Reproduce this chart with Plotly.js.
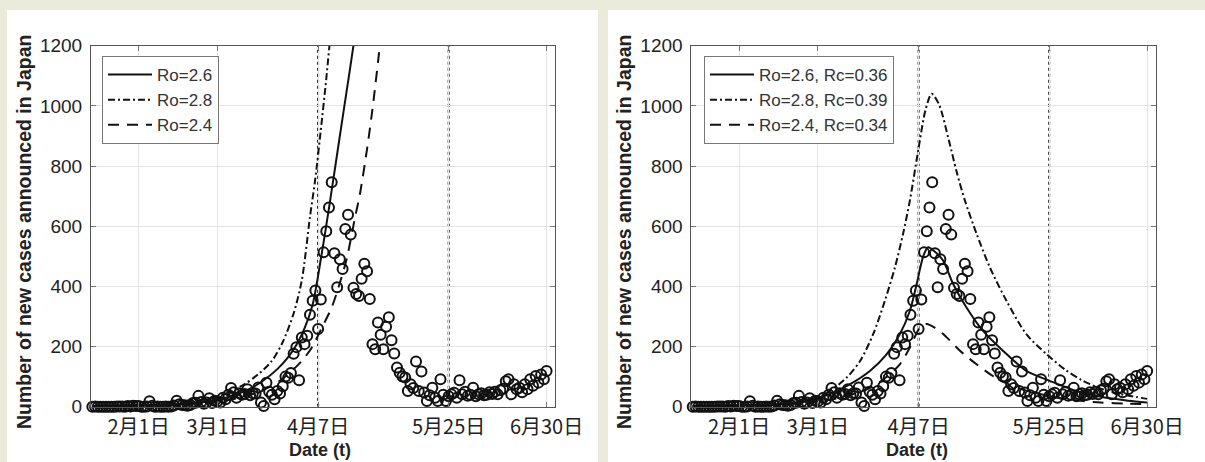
<!DOCTYPE html>
<html>
<head>
<meta charset="utf-8">
<script src="https://cdn.plot.ly/plotly-3.0.1.min.js"></script>
<style>html,body{margin:0;padding:0;background:#ebebdc;}#chart{width:1205px;height:462px;}</style>
</head>
<body>
<div id="chart"></div>
<script>
// ---- tick labels (day index 0 = Jan 15) ----
const tickDays = [17, 46, 83, 131, 167];
const tickLabels = ['2月1日', '3月1日', '4月7日', '5月25日', '6月30日'];
const emergencyDays = [83, 131];

// ---- announced daily new cases (day 0 .. 167) ----
const cases = [
  0,1,0,0,0,0,0,0,0,1,1,1,0,2,1,3,2,
  2,0,0,1,18,3,0,1,0,0,1,0,1,4,20,8,6,5,3,6,12,13,36,16,10,14,28,12,20,
  18,14,30,25,40,62,48,30,45,40,42,58,38,45,44,64,14,2,80,50,40,25,52,44,68,100,96,112,176,198,88,
  230,208,236,306,352,386,258,356,513,583,662,746,510,397,490,458,591,638,572,395,375,368,425,475,450,358,208,191,280,239,191,266,297,221,
  177,130,113,100,97,52,75,62,150,52,117,47,19,38,63,30,19,91,40,19,35,41,46,30,88,41,50,36,40,63,35,41,45,38,40,48,42,50,41,55,60,85,91,41,75,58,63,48,75,58,91,70,102,80,107,91,119
];

// ---- left panel: model without countermeasures ----
const dayL26 = [0,10,20,30,40,46,52,58,63,68,72,75,78,81,84,87,90,93,96,99];
const valL26 = [1,2,4,7,14,22,38,60,88,125,165,205,260,340,490,660,840,1020,1200,1400];
const dayL28 = [0,10,20,30,40,46,51,56,61,66,70,74,77,80,82,84,86,88,90];
const valL28 = [1,2,4,9,20,33,52,75,108,152,215,310,420,630,760,920,1090,1280,1480];
const dayL24 = [0,10,20,30,40,50,60,65,70,74,77,80.7,84.4,88,90.5,93.5,96.6,98.4,101,103,105.8,108];
const valL24 = [1,2,3,6,11,22,45,65,93,125,152,197,263,330,397,491,630,708,857,990,1210,1420];

// ---- right panel: model with countermeasures ----
const dayR26 = [0,10,20,30,40,50,57.8,65.1,71.3,76.1,79.8,82.3,84.7,86.5,89,92,95.7,100.6,106.7,114,122.6,131.2,140,150,160,167];
const valR26 = [1,2,4,7,14,40,75,119,175,241,319,408,500,530,515,486,408,330,252,186,119,86,55,33,20,14];
const dayR28 = [0,10,20,30,40,46,50.4,56.6,61.5,66.3,70.6,74.3,77.3,79.8,83,85.5,87.8,90.5,94,97,100,104.3,109.2,115.3,122.6,130,137,143,150,157,163,167];
const valR28 = [1,2,4,9,20,32,52,97,152,241,352,463,575,686,860,985,1040,1005,890,780,686,575,463,352,241,175,122,88,60,42,32,26];
const dayR24 = [0,10,20,30,40,50,60,65,70,76.1,79.8,83.5,86,89,92.7,98.2,104.3,110.3,116,122,131,140,150,160,167];
const valR24 = [1,2,3,6,11,22,45,62,90,141,197,263,275,262,236,186,141,102,75,55,35,22,14,10,8];

const namesL = ['Ro=2.6', 'Ro=2.8', 'Ro=2.4'];
const namesR = ['Ro=2.6, Rc=0.36', 'Ro=2.8, Rc=0.39', 'Ro=2.4, Rc=0.34'];
const yTitle = 'Number of new cases announced in Japan';
const xTitle = 'Date (t)';

const caseDays = cases.map((_, i) => i);
const DASHDOT = '7px,3px,2px,3px';
const DASH = '11px,8px';

function dataTrace(xa, ya) {
  return {x: caseDays, y: cases, xaxis: xa, yaxis: ya, type: 'scatter', mode: 'markers',
    marker: {symbol: 'circle-open', size: 10, color: '#111', line: {width: 2, color: '#111'}},
    showlegend: false, cliponaxis: false, hoverinfo: 'skip'};
}
function lineTrace(d, v, name, dash, xa, ya, leg) {
  return {x: d, y: v, name: name, xaxis: xa, yaxis: ya, type: 'scatter', mode: 'lines',
    line: {color: '#111', width: 2, dash: dash, shape: 'spline', smoothing: 0.8}, legend: leg};
}

const traces = [
  dataTrace('x', 'y'),
  lineTrace(dayL26, valL26, namesL[0], 'solid', 'x', 'y', 'legend'),
  lineTrace(dayL28, valL28, namesL[1], DASHDOT, 'x', 'y', 'legend'),
  lineTrace(dayL24, valL24, namesL[2], DASH, 'x', 'y', 'legend'),
  dataTrace('x2', 'y2'),
  lineTrace(dayR26, valR26, namesR[0], 'solid', 'x2', 'y2', 'legend2'),
  lineTrace(dayR28, valR28, namesR[1], DASHDOT, 'x2', 'y2', 'legend2'),
  lineTrace(dayR24, valR24, namesR[2], DASH, 'x2', 'y2', 'legend2')
];

const W = 1205, H = 462;
const px = v => v / W, py = v => 1 - v / H;

function xAxis(domain, anchor) {
  return {domain: domain, anchor: anchor, range: [-0.5, 170.1], tickvals: tickDays, ticktext: tickLabels,
    ticks: 'inside', ticklen: 5, tickcolor: '#777', showline: true, linecolor: '#555', linewidth: 1,
    mirror: 'ticks', showgrid: true, gridcolor: '#e4e4e4', zeroline: false, fixedrange: true,
    ticklabelstandoff: 2,
    tickfont: {family: 'Noto Sans CJK JP, Liberation Sans', size: 20, color: '#222'}};
}
function yAxis(domain, anchor) {
  return {domain: domain, anchor: anchor, range: [0, 1200], dtick: 200,
    ticks: 'inside', ticklen: 5, tickcolor: '#777', showline: true, linecolor: '#555', linewidth: 1,
    mirror: 'ticks', showgrid: true, gridcolor: '#e4e4e4', zeroline: false, fixedrange: true,
    ticklabelstandoff: 4,
    tickfont: {family: 'Liberation Sans, Arial', size: 19, color: '#222'}};
}
const yDom = [py(406.7), py(45.7)];

const shapes = [
  {type: 'rect', xref: 'paper', yref: 'paper', x0: px(7), x1: px(598), y0: 0, y1: py(10), fillcolor: '#ffffff', line: {width: 0}, layer: 'below'},
  {type: 'rect', xref: 'paper', yref: 'paper', x0: px(608), x1: 1, y0: 0, y1: py(10), fillcolor: '#ffffff', line: {width: 0}, layer: 'below'}
];
[['x', 'y'], ['x2', 'y2']].forEach(([xr, yr]) => {
  emergencyDays.forEach(d => shapes.push({type: 'line', xref: xr, yref: yr, x0: d, x1: d, y0: 0, y1: 1200,
    line: {color: '#1a1a1a', width: 2, dash: 'dot'}, layer: 'below'}));
});

const titleFont = {family: 'Liberation Sans, Arial', size: 19.5, color: '#222'};
const annotations = [
  {text: '<b>' + yTitle + '</b>', xref: 'paper', yref: 'paper', x: px(24), y: py(232), xanchor: 'center', yanchor: 'middle', textangle: -90, showarrow: false, font: titleFont},
  {text: '<b>' + yTitle + '</b>', xref: 'paper', yref: 'paper', x: px(624), y: py(232), xanchor: 'center', yanchor: 'middle', textangle: -90, showarrow: false, font: titleFont},
  {text: '<b>' + xTitle + '</b>', xref: 'paper', yref: 'paper', x: px(320), y: py(450), xanchor: 'center', yanchor: 'middle', showarrow: false, font: {family: 'Liberation Sans, Arial', size: 18, color: '#222'}},
  {text: '<b>' + xTitle + '</b>', xref: 'paper', yref: 'paper', x: px(917), y: py(450), xanchor: 'center', yanchor: 'middle', showarrow: false, font: {family: 'Liberation Sans, Arial', size: 18, color: '#222'}}
];

const legendBase = {xanchor: 'left', yanchor: 'top', bgcolor: '#ffffff', bordercolor: '#777', borderwidth: 1,
  font: {family: 'Liberation Sans, Arial', size: 17, color: '#333'}, tracegroupgap: 0, itemclick: false,
  itemwidth: 44};

const layout = {
  width: W, height: H, margin: {l: 0, r: 0, t: 0, b: 0},
  paper_bgcolor: '#ebebdc', plot_bgcolor: 'rgba(0,0,0,0)',
  xaxis: xAxis([px(91), px(555)], 'y'),
  yaxis: yAxis(yDom, 'x'),
  xaxis2: xAxis([px(691.4), px(1155.6)], 'y2'),
  yaxis2: yAxis(yDom, 'x2'),
  showlegend: true,
  legend: Object.assign({x: px(102), y: py(56)}, legendBase),
  legend2: Object.assign({x: px(704), y: py(56)}, legendBase),
  shapes: shapes,
  annotations: annotations
};

Plotly.newPlot('chart', traces, layout, {staticPlot: true, displayModeBar: false});
</script>
</body>
</html>
